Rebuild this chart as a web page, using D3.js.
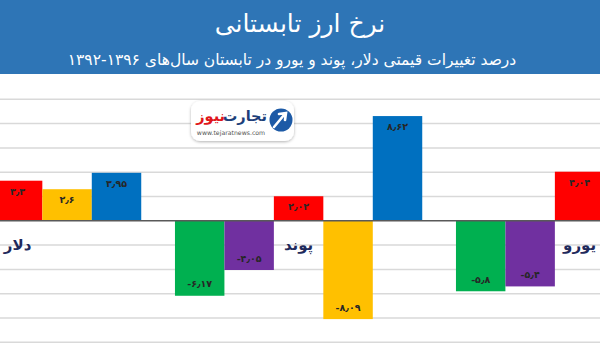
<!DOCTYPE html>
<html lang="fa">
<head>
<meta charset="utf-8">
<script src="https://cdn.jsdelivr.net/npm/d3@7/dist/d3.min.js"></script>
<style>
  html, body { margin: 0; padding: 0; background: #ffffff; }
  svg { display: block; }
  text { font-family: "DejaVu Sans", "Noto Sans", sans-serif; }
</style>
</head>
<body>
<div id="chart"></div>
<script>
// Summer price change (%) of dollar, pound and euro, by year
const categories = ["دلار", "پوند", "یورو"];
const seriesKeys = ["۱۳۹۶", "۱۳۹۵", "۱۳۹۴", "۱۳۹۳", "۱۳۹۲"];
const seriesColors = ["#00B050", "#7030A0", "#FF0000", "#FFC000", "#0070C0"];
const values1396 = [null, -6.17, -5.8];
const values1395 = [null, -4.05, -5.4];
const values1394 = [3.3, 2.02, 4.04];
const values1393 = [2.6, -8.09, null];
const values1392 = [3.95, 8.62, null];
const yTicks = [-10, -8, -6, -4, -2, 0, 2, 4, 6, 8, 10];

const title = "نرخ ارز تابستانی";
const subtitle = "درصد تغییرات قیمتی دلار، پوند و یورو در تابستان سال‌های ۱۳۹۶-۱۳۹۲";

const W = 600, H = 343;
const seriesValues = [values1396, values1395, values1394, values1393, values1392];

const svg = d3.select("#chart").append("svg")
  .attr("width", W).attr("height", H)
  .attr("viewBox", `0 0 ${W} ${H}`);

// scales: the plot runs past both edges of the view
const step = 281, pad = 0.12;
const x0 = d3.scaleBand().domain(categories)
  .range([-122.9, -122.9 + step * categories.length])
  .paddingInner(pad).paddingOuter(pad / 2);
const x1 = d3.scaleBand().domain(seriesKeys).range([0, x0.bandwidth()]).padding(0);
const y = d3.scaleLinear().domain([-10, 10]).range([342.3, 99.3]);

// grid
const plot = svg.append("g");
plot.append("g").selectAll("line").data(yTicks.filter(t => t !== 0)).join("line")
  .attr("x1", 0).attr("x2", W)
  .attr("y1", d => y(d)).attr("y2", d => y(d))
  .attr("stroke", "#d9d9d9").attr("stroke-width", 1.5);

// bars
const toPersian = s => s.replace(/[0-9]/g, c => "۰۱۲۳۴۵۶۷۸۹"[+c]).replace(".", "٫");
const fmt = v => toPersian(String(v));

const rows = [];
categories.forEach((c, ci) => {
  seriesKeys.forEach((k, si) => {
    const v = seriesValues[si][ci];
    if (v !== null) rows.push({ cat: c, key: k, value: v, color: seriesColors[si] });
  });
});

const bars = plot.append("g");
bars.selectAll("rect").data(rows).join("rect")
  .attr("x", d => x0(d.cat) + x1(d.key))
  .attr("width", x1.bandwidth())
  .attr("y", d => y(Math.max(0, d.value)))
  .attr("height", d => Math.abs(y(d.value) - y(0)))
  .attr("fill", d => d.color);

bars.selectAll("text").data(rows).join("text")
  .attr("x", d => x0(d.cat) + x1(d.key) + x1.bandwidth() / 2)
  .attr("y", d => d.value >= 0 ? y(d.value) + 14 : y(d.value) - 8.5)
  .attr("text-anchor", "middle")
  .attr("direction", "ltr")
  .attr("font-size", 9.5).attr("font-weight", "bold")
  .attr("fill", "#262626")
  .text(d => fmt(d.value));

// zero line
plot.append("line")
  .attr("x1", 0).attr("x2", W).attr("y1", y(0)).attr("y2", y(0))
  .attr("stroke", "#595959").attr("stroke-width", 1.5);

// category labels
plot.append("g").selectAll("text").data(categories).join("text")
  .attr("x", d => x0(d) + x0.bandwidth() / 2)
  .attr("y", y(0) + 29)
  .attr("text-anchor", "middle")
  .attr("font-size", 15).attr("font-weight", "bold")
  .attr("fill", "#1f2a5c")
  .text(d => d);

// header
svg.append("rect").attr("x", 0).attr("y", 0).attr("width", W).attr("height", 74)
  .attr("fill", "#2E75B6");
svg.append("text").attr("x", 300).attr("y", 32)
  .attr("text-anchor", "middle").attr("direction", "rtl")
  .attr("font-size", 25).attr("fill", "#ffffff")
  .text(title);
svg.append("text").attr("x", 292).attr("y", 65)
  .attr("text-anchor", "middle").attr("direction", "rtl")
  .attr("font-size", 15.5).attr("fill", "#ffffff")
  .text(subtitle);

// news logo
const defs = svg.append("defs");
const f = defs.append("filter").attr("id", "sh").attr("x", "-20%").attr("y", "-20%")
  .attr("width", "140%").attr("height", "150%");
f.append("feDropShadow").attr("dx", 0).attr("dy", 1).attr("stdDeviation", 1.5)
  .attr("flood-color", "#000").attr("flood-opacity", 0.3);

const logo = svg.append("g");
logo.append("rect").attr("x", 191).attr("y", 101).attr("width", 103).attr("height", 40)
  .attr("rx", 9).attr("fill", "#ffffff").attr("filter", "url(#sh)");
logo.append("circle").attr("cx", 281).attr("cy", 120).attr("r", 11.5).attr("fill", "#1d5aa6");
logo.append("path")
  .attr("d", "M274,127 L284,115 M279,114 L286,113 L285,120")
  .attr("stroke", "#ffffff").attr("stroke-width", 2.6).attr("fill", "none")
  .attr("stroke-linecap", "round");
logo.append("text").attr("x", 267).attr("y", 121)
  .attr("text-anchor", "end")
  .attr("font-size", 14.5).attr("font-weight", "bold").attr("fill", "#1d3f7a")
  .text("تجارت");
logo.append("text").attr("x", 225).attr("y", 121)
  .attr("text-anchor", "end")
  .attr("font-size", 14.5).attr("font-weight", "bold").attr("fill", "#e0161b")
  .text("نیوز");
logo.append("text").attr("x", 231).attr("y", 135)
  .attr("text-anchor", "middle").attr("font-size", 6.2).attr("fill", "#555")
  .text("www.tejaratnews.com");
</script>
</body>
</html>
